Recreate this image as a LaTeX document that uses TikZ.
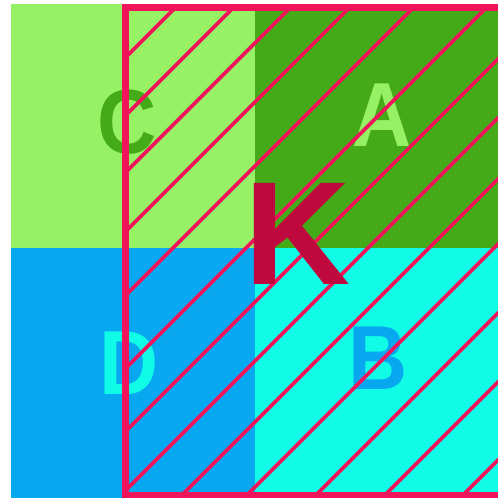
\documentclass[tikz,border=0pt]{standalone}
\usepackage{fontspec}
\setmainfont{Liberation Sans}
\definecolor{lgreen}{RGB}{150,242,100}
\definecolor{dgreen}{RGB}{68,170,24}
\definecolor{skyblue}{RGB}{8,168,240}
\definecolor{aqua}{RGB}{16,252,230}
\definecolor{hatchred}{RGB}{240,20,90}
\definecolor{kred}{RGB}{190,8,62}
\newcommand\narrowtxt[1]{\scalebox{0.9}[1]{#1}}
\tikzset{
  letter/.style={inner sep=0pt, font=\fontsize{91}{91}\selectfont\bfseries},
  bigletter/.style={inner sep=0pt, text=kred, font=\fontsize{147}{147}\selectfont\bfseries},
  hatchline/.style={draw=hatchred, line width=3.6pt},
  border/.style={draw=hatchred, line width=6.5pt}
}
\begin{document}
\begin{tikzpicture}[x=1pt,y=-1pt]
\clip (0,0) rectangle (498,498);
\fill[white] (0,0) rectangle (498,498);
% quadrants
\fill[lgreen] (11,4) rectangle (255,248);
\fill[dgreen] (255,4) rectangle (498,248);
\fill[skyblue] (11,248) rectangle (255,498);
\fill[aqua] (255,248) rectangle (498,498);
% quadrant letters
\node[letter, text=dgreen] (C) at (127,122) {\narrowtxt{C}};
\node[letter, text=lgreen] (A) at (382,115) {\narrowtxt{A}};
\node[letter, text=aqua] (D) at (129,363) {\narrowtxt{D}};
\node[letter, text=skyblue] (B) at (378,358) {\narrowtxt{B}};
% hatching
\begin{scope}
  \clip (125.7,7.5) rectangle (502,495);
  \foreach \c in {183,241,298,357,421,494,557,616,677,742,811,880,958}
    \draw[hatchline] (\c,0) -- ({\c-600},600);
\end{scope}
\draw[border] (125.7,7.5) rectangle (502,495);
% K
\node[bigletter] (K) at (298,234) {K};
\end{tikzpicture}
\end{document}
